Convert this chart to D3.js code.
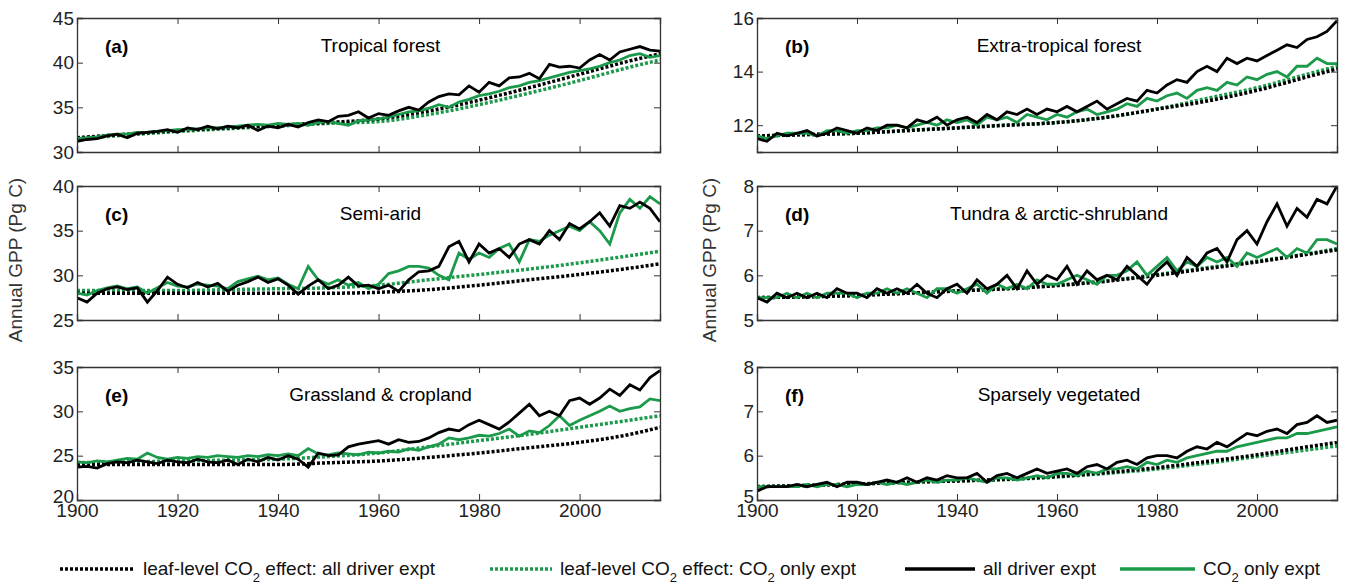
<!DOCTYPE html><html><head><meta charset="utf-8"><script src="https://d3js.org/d3.v7.min.js"></script>
<style>body{margin:0;background:#fff}text{font-family:"Liberation Sans",Arial,sans-serif}</style></head><body>
<svg id="c" width="1349" height="585"></svg>
<script>
const years=d3.range(1900,2017,2);
const nodeYears=[1900,1910,1920,1930,1940,1950,1960,1970,1980,1990,2000,2010,2016];
const xTicks=[1900,1920,1940,1960,1980,2000];
const titles=["Tropical forest","Extra-tropical forest","Semi-arid","Tundra & arctic-shrubland","Grassland & cropland","Sparsely vegetated"];
const letters=["(a)","(b)","(c)","(d)","(e)","(f)"];
const yDomains=[[30,45],[11,16],[25,40],[5,8],[20,35],[5,8]];
const yTicks=[[30,35,40,45],[12,14,16],[25,30,35,40],[5,6,7,8],[20,25,30,35],[5,6,7,8]];
const allDriver=[
[31.2,31.4,31.5,31.8,32.0,31.6,32.1,32.2,32.3,32.5,32.2,32.7,32.5,32.9,32.6,32.9,32.7,33.0,32.4,32.9,32.7,33.1,32.8,33.3,33.6,33.4,34.0,34.1,34.5,33.8,34.3,34.1,34.6,35.0,34.7,35.6,36.2,36.5,36.4,37.4,36.7,37.8,37.4,38.3,38.4,38.8,38.2,39.8,39.5,39.6,39.4,40.3,40.9,40.3,41.2,41.5,41.8,41.4,41.3],
[11.5,11.4,11.7,11.6,11.7,11.8,11.6,11.7,11.9,11.8,11.7,11.9,11.8,12.0,12.0,11.9,12.2,12.1,12.3,12.0,12.2,12.3,12.1,12.4,12.2,12.5,12.4,12.6,12.4,12.6,12.5,12.7,12.5,12.7,12.9,12.6,12.8,13.0,12.9,13.3,13.2,13.5,13.7,13.6,14.0,14.2,14.0,14.5,14.3,14.5,14.4,14.6,14.8,15.0,14.9,15.2,15.3,15.5,15.9],
[27.5,27.0,28.0,28.5,28.7,28.4,28.6,27.0,28.3,29.8,29.0,28.6,29.2,28.7,29.1,28.2,28.9,29.3,29.8,29.2,29.6,28.9,27.9,28.8,29.5,28.5,28.9,29.8,28.8,28.9,28.5,28.9,28.2,29.5,30.4,30.5,31.0,33.2,33.8,31.5,33.5,32.5,33.0,32.0,33.5,34.0,33.5,35.0,34.0,35.8,35.2,36.0,37.0,35.5,37.8,37.5,38.2,37.5,36.0],
[5.5,5.4,5.6,5.5,5.6,5.5,5.6,5.5,5.7,5.6,5.6,5.5,5.7,5.6,5.7,5.6,5.8,5.6,5.5,5.7,5.8,5.6,5.9,5.7,5.8,6.0,5.7,6.1,5.8,6.0,5.9,6.2,5.8,6.1,5.9,6.0,5.9,6.2,6.0,5.8,6.1,6.3,6.0,6.4,6.2,6.5,6.6,6.3,6.8,7.0,6.7,7.2,7.6,7.1,7.5,7.3,7.7,7.6,8.0],
[23.7,23.8,23.6,24.1,24.3,24.2,24.5,24.3,24.1,24.5,24.3,24.2,24.6,24.3,24.2,24.5,24.0,24.6,24.3,24.8,24.5,25.0,24.6,23.7,25.3,25.0,25.1,26.0,26.3,26.5,26.7,26.3,26.8,26.5,26.6,27.0,27.6,28.0,27.8,28.5,29.0,28.5,28.0,28.8,29.8,30.8,29.5,30.0,29.5,31.2,31.5,30.8,31.5,32.5,31.8,33.0,32.4,33.8,34.6],
[5.2,5.3,5.3,5.3,5.35,5.3,5.35,5.4,5.3,5.4,5.4,5.35,5.4,5.45,5.4,5.5,5.4,5.5,5.45,5.55,5.5,5.5,5.6,5.4,5.55,5.6,5.5,5.6,5.7,5.6,5.65,5.7,5.6,5.75,5.8,5.7,5.85,5.9,5.8,5.95,6.0,6.0,5.95,6.1,6.2,6.15,6.3,6.2,6.35,6.5,6.45,6.55,6.6,6.5,6.7,6.75,6.9,6.75,6.8]];
const co2Only=[
[31.5,31.6,31.7,31.9,32.0,32.0,32.2,32.2,32.3,32.4,32.5,32.5,32.6,32.7,32.7,32.8,32.9,33.0,33.1,33.0,33.2,33.1,33.2,33.0,33.3,33.4,33.2,33.0,33.5,33.6,33.7,33.9,34.2,34.5,34.6,34.9,35.3,35.0,35.6,35.9,36.3,36.5,36.8,37.2,37.4,37.8,38.0,38.3,38.6,38.9,39.1,39.3,39.6,40.0,40.3,40.8,41.0,40.6,40.8],
[11.6,11.5,11.6,11.7,11.7,11.7,11.6,11.8,11.8,11.7,11.8,11.8,11.9,11.9,12.0,11.9,12.0,12.1,12.0,12.2,12.1,12.2,12.0,12.3,12.2,12.3,12.1,12.4,12.3,12.2,12.4,12.3,12.5,12.6,12.4,12.5,12.6,12.8,12.7,13.0,12.9,13.1,13.2,13.0,13.3,13.4,13.3,13.6,13.5,13.8,13.7,13.9,14.0,13.8,14.2,14.2,14.5,14.3,14.3],
[28.0,27.8,28.3,28.6,28.8,28.5,28.7,28.0,28.6,29.2,28.8,28.7,29.0,28.9,28.8,28.5,29.3,29.6,29.9,29.5,29.7,29.0,28.5,31.0,29.5,29.0,29.5,28.9,29.2,28.5,29.0,30.2,30.5,31.0,31.0,30.8,30.0,29.5,32.5,31.8,32.5,32.0,33.0,33.5,31.5,34.0,33.8,34.5,35.0,35.5,35.0,36.0,35.0,33.5,37.0,38.5,37.5,38.8,38.0],
[5.5,5.5,5.5,5.6,5.5,5.6,5.5,5.6,5.6,5.6,5.5,5.6,5.6,5.7,5.6,5.7,5.6,5.5,5.7,5.7,5.6,5.7,5.8,5.6,5.8,5.7,5.8,5.7,5.9,5.8,5.8,5.9,6.0,5.9,5.8,6.0,6.0,6.1,6.3,6.0,6.2,6.4,6.1,6.3,6.2,6.4,6.3,6.4,6.2,6.5,6.4,6.5,6.6,6.4,6.6,6.5,6.8,6.8,6.7],
[24.3,24.2,24.4,24.3,24.5,24.7,24.6,25.3,24.8,24.6,24.8,24.7,24.9,24.8,25.0,24.9,24.8,25.0,24.9,25.1,25.0,25.2,25.0,25.8,25.2,25.1,25.3,25.2,25.1,25.4,25.3,25.5,25.4,25.8,25.6,26.0,26.3,27.0,26.8,27.0,27.3,27.2,27.5,28.0,27.2,27.8,27.6,28.4,29.5,28.4,29.0,29.5,30.0,30.6,30.0,30.3,30.5,31.4,31.2],
[5.3,5.3,5.3,5.3,5.3,5.35,5.3,5.35,5.35,5.3,5.35,5.35,5.4,5.35,5.4,5.35,5.4,5.45,5.4,5.45,5.45,5.5,5.45,5.4,5.5,5.5,5.45,5.5,5.55,5.5,5.6,5.6,5.55,5.65,5.6,5.7,5.7,5.75,5.7,5.85,5.8,5.9,5.85,5.95,6.0,6.05,6.1,6.1,6.2,6.25,6.3,6.35,6.4,6.4,6.5,6.5,6.55,6.6,6.65]];
const leafAll=[
[31.6,32.0,32.4,32.7,33.0,33.3,33.7,34.6,35.8,37.2,38.7,40.2,41.0],
[11.6,11.65,11.7,11.8,11.9,12.0,12.1,12.3,12.6,12.9,13.3,13.8,14.1],
[28.0,28.0,28.0,28.0,28.0,28.0,28.1,28.4,28.9,29.5,30.1,30.8,31.3],
[5.5,5.52,5.55,5.6,5.65,5.7,5.77,5.87,6.0,6.15,6.3,6.47,6.57],
[24.0,24.0,24.0,24.0,24.0,24.2,24.4,24.8,25.3,25.9,26.5,27.4,28.2],
[5.3,5.33,5.36,5.4,5.43,5.47,5.53,5.62,5.73,5.87,6.02,6.2,6.3]];
const leafCO2=[
[31.5,31.9,32.3,32.6,32.9,33.2,33.4,34.2,35.3,36.6,38.0,39.5,40.3],
[11.6,11.65,11.7,11.8,11.9,12.0,12.1,12.3,12.6,13.0,13.4,13.9,14.2],
[28.3,28.3,28.3,28.4,28.5,28.6,28.9,29.5,30.1,30.7,31.4,32.2,32.7],
[5.5,5.52,5.55,5.6,5.65,5.7,5.78,5.88,6.02,6.17,6.32,6.48,6.6],
[24.2,24.3,24.4,24.5,24.6,24.9,25.3,26.0,26.7,27.4,28.2,29.0,29.5],
[5.3,5.33,5.36,5.4,5.43,5.46,5.52,5.6,5.7,5.83,5.98,6.13,6.22]];
const GREEN="#1a9a4a";
const svg=d3.select("#c");
const cols=[[77,660],[757,1337]], rows=[[18,152],[186,320],[367,500]];
for(let i=0;i<6;i++){
  const c=cols[i%2], r=rows[Math.floor(i/2)];
  const x=d3.scaleLinear().domain([1900,2016]).range(c);
  const y=d3.scaleLinear().domain(yDomains[i]).range([r[1],r[0]]);
  const g=svg.append("g");
  const clipId="cl"+i;
  g.append("clipPath").attr("id",clipId).append("rect").attr("x",c[0]).attr("y",r[0]).attr("width",c[1]-c[0]).attr("height",r[1]-r[0]);
  const pg=g.append("g").attr("clip-path",`url(#${clipId})`);
  const lineN=d3.line().x((d,j)=>x(nodeYears[j])).y(d=>y(d)).curve(d3.curveMonotoneX);
  const lineY=d3.line().x((d,j)=>x(years[j])).y(d=>y(d));
  pg.append("path").attr("d",lineN(leafCO2[i])).attr("fill","none").attr("stroke",GREEN).attr("stroke-width",3.5).attr("stroke-dasharray","3,2");
  pg.append("path").attr("d",lineN(leafAll[i])).attr("fill","none").attr("stroke","#000").attr("stroke-width",3.5).attr("stroke-dasharray","3,2");
  pg.append("path").attr("d",lineY(co2Only[i])).attr("fill","none").attr("stroke",GREEN).attr("stroke-width",2.8);
  pg.append("path").attr("d",lineY(allDriver[i])).attr("fill","none").attr("stroke","#000").attr("stroke-width",2.8);
  const bottom=Math.floor(i/2)==2;
  const ax=d3.axisBottom(x).tickValues(xTicks).tickSize(-6).tickPadding(3).tickFormat(bottom?d3.format("d"):()=>"");
  const axT=d3.axisTop(x).tickValues(xTicks).tickSize(-6).tickFormat(()=>"");
  const ay=d3.axisLeft(y).tickValues(yTicks[i]).tickSize(-6).tickPadding(3).tickFormat(d3.format("d"));
  const ayR=d3.axisRight(y).tickValues(yTicks[i]).tickSize(-6).tickFormat(()=>"");
  [[ax,`translate(0,${r[1]})`,0],[axT,`translate(0,${r[0]})`,0],[ay,`translate(${c[0]},0)`,1],[ayR,`translate(${c[1]},0)`,0]].forEach(([a,t,isY])=>{
    const ag=g.append("g").attr("transform",t).call(a);
    ag.selectAll("text").attr("font-size",19).attr("fill","#222");
    if(isY&&bottom) ag.selectAll("text").filter(d=>d===yTicks[i][0]).attr("dy","0.15em");
    ag.select(".domain").attr("stroke","#333").attr("stroke-width",1.3);
    ag.selectAll(".tick line").attr("stroke","#333");
  });
  g.append("text").attr("x",c[0]+28).attr("y",r[0]+35).attr("font-size",19).attr("font-weight","bold").text(letters[i]);
  g.append("text").attr("x",(c[0]+c[1])/2+12).attr("y",r[0]+34).attr("text-anchor","middle").attr("font-size",19).text(titles[i]);
}
[[22,"Annual GPP (Pg C)"],[716,"Annual GPP (Pg C)"]].forEach(([xx,t])=>{
  svg.append("text").attr("transform",`translate(${xx},260) rotate(-90)`).attr("text-anchor","middle").attr("font-size",19).attr("fill","#333").text(t);
});
const legend=[
 {x1:60,x2:135,c:"#000",d:"3,2",t:["leaf-level CO","2"," effect: all driver expt"]},
 {x1:490,x2:552,c:GREEN,d:"3,2",t:["leaf-level CO","2"," effect: CO","2"," only expt"]},
 {x1:905,x2:975,c:"#000",d:null,t:["all driver expt"]},
 {x1:1120,x2:1195,c:GREEN,d:null,t:["CO","2"," only expt"]}];
legend.forEach(l=>{
  const ln=svg.append("line").attr("x1",l.x1).attr("x2",l.x2).attr("y1",569).attr("y2",569).attr("stroke",l.c).attr("stroke-width",3.5);
  if(l.d)ln.attr("stroke-dasharray",l.d);
  const tx=svg.append("text").attr("x",l.x2+8).attr("y",575).attr("font-size",19).attr("fill","#111");
  l.t.forEach((s,k)=>{const sp=tx.append("tspan").text(s);
    if(s==="2"){sp.attr("dy",7).attr("font-size",13);} else if(k>0&&l.t[k-1]==="2"){sp.attr("dy",-7);} });
});
</script></body></html>
